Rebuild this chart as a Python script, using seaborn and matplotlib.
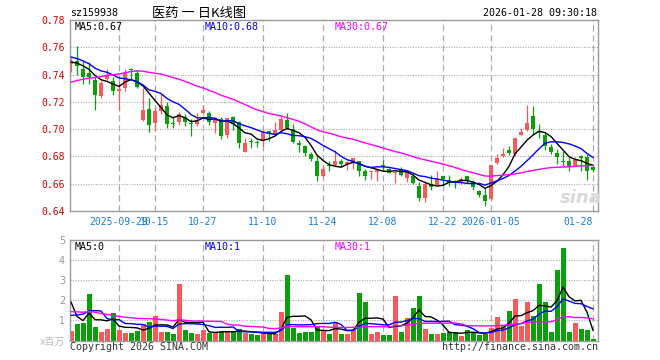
import numpy as np
import pandas as pd
import matplotlib
matplotlib.use('Agg')
import matplotlib.pyplot as plt
import seaborn as sns

# 日K数据 2025-09-17 .. 2026-01-28
open_ = [0.748, 0.750, 0.744, 0.741, 0.736, 0.724, 0.737, 0.735, 0.728, 0.730,
         0.7435, 0.7415, 0.7065, 0.7145, 0.7045, 0.7135, 0.717, 0.704, 0.705, 0.709,
         0.7045, 0.7035, 0.7118, 0.7118, 0.7045, 0.7075, 0.6955, 0.709, 0.705, 0.6835,
         0.691, 0.6905, 0.692, 0.6985, 0.6955, 0.6995, 0.7065, 0.700, 0.690, 0.6875,
         0.682, 0.6765, 0.6655, 0.6735, 0.6737, 0.6768, 0.6745, 0.675, 0.6763, 0.669,
         0.6685, 0.6688, 0.674, 0.671, 0.668, 0.6705, 0.664, 0.666, 0.658, 0.6495,
         0.6595, 0.6593, 0.6655, 0.6624, 0.6615, 0.6605, 0.6654, 0.661, 0.6545, 0.652,
         0.6487, 0.675, 0.680, 0.685, 0.6815, 0.6955, 0.6995, 0.7098, 0.6988, 0.6955,
         0.687, 0.6825, 0.6763, 0.6768, 0.6727, 0.680, 0.6793, 0.672]
high = [0.752, 0.761, 0.750, 0.749, 0.738, 0.735, 0.744, 0.738, 0.735, 0.744,
        0.7445, 0.743, 0.730, 0.7225, 0.716, 0.7255, 0.720, 0.709, 0.7125, 0.711,
        0.7075, 0.712, 0.7175, 0.713, 0.709, 0.709, 0.7085, 0.710, 0.706, 0.6935,
        0.6935, 0.692, 0.699, 0.699, 0.705, 0.7095, 0.7115, 0.7035, 0.692, 0.6885,
        0.6835, 0.681, 0.674, 0.677, 0.6845, 0.678, 0.6765, 0.679, 0.677, 0.6705,
        0.669, 0.6705, 0.6775, 0.6715, 0.669, 0.6725, 0.6685, 0.667, 0.6615, 0.661,
        0.6665, 0.669, 0.6658, 0.6665, 0.663, 0.665, 0.666, 0.6624, 0.6556, 0.6568,
        0.6735, 0.682, 0.6865, 0.6875, 0.6935, 0.7005, 0.7175, 0.717, 0.7035, 0.6975,
        0.689, 0.6854, 0.684, 0.6793, 0.6793, 0.681, 0.6817, 0.6732]
low = [0.742, 0.740, 0.733, 0.733, 0.714, 0.723, 0.736, 0.725, 0.714, 0.728,
       0.736, 0.730, 0.706, 0.698, 0.6985, 0.711, 0.7007, 0.7005, 0.703, 0.7025,
       0.695, 0.702, 0.711, 0.703, 0.697, 0.693, 0.6935, 0.6995, 0.6865, 0.683,
       0.6865, 0.687, 0.687, 0.691, 0.695, 0.6995, 0.700, 0.690, 0.6835, 0.680,
       0.6765, 0.662, 0.665, 0.6695, 0.673, 0.672, 0.670, 0.671, 0.666, 0.663,
       0.6635, 0.662, 0.670, 0.6675, 0.6605, 0.666, 0.661, 0.6598, 0.6475, 0.6465,
       0.6555, 0.659, 0.658, 0.658, 0.6568, 0.660, 0.6605, 0.6556, 0.650, 0.6435,
       0.648, 0.6748, 0.6795, 0.681, 0.680, 0.6955, 0.699, 0.6965, 0.6935, 0.6845,
       0.6817, 0.6744, 0.673, 0.669, 0.6727, 0.669, 0.663, 0.6683]
close = [0.750, 0.746, 0.738, 0.738, 0.725, 0.734, 0.740, 0.728, 0.7295, 0.741,
         0.743, 0.731, 0.714, 0.703, 0.7135, 0.718, 0.7037, 0.7035, 0.711, 0.7055,
         0.704, 0.7065, 0.714, 0.7055, 0.708, 0.695, 0.708, 0.7035, 0.690, 0.690,
         0.6905, 0.690, 0.698, 0.6965, 0.6995, 0.7075, 0.701, 0.6905, 0.6885, 0.6825,
         0.678, 0.6655, 0.671, 0.673, 0.6765, 0.6745, 0.676, 0.6785, 0.669, 0.666,
         0.669, 0.670, 0.672, 0.668, 0.6685, 0.6665, 0.6683, 0.6605, 0.6495, 0.660,
         0.6578, 0.6635, 0.6635, 0.6605, 0.661, 0.6637, 0.663, 0.6576, 0.652, 0.647,
         0.6735, 0.679, 0.6815, 0.6825, 0.6932, 0.6978, 0.7047, 0.700, 0.697, 0.6878,
         0.6835, 0.6793, 0.676, 0.6727, 0.6776, 0.679, 0.669, 0.6698]
# 成交量, 百万
volume = [0.48, 0.83, 0.88, 2.32, 0.68, 0.43, 0.58, 1.37, 0.53, 0.38,
          0.38, 0.48, 0.83, 0.93, 1.23, 0.43, 0.43, 0.33, 2.81, 0.53,
          0.38, 0.33, 0.53, 0.38, 0.38, 0.48, 0.43, 0.48, 0.58, 0.38,
          0.30, 0.28, 0.38, 0.38, 0.33, 1.42, 3.26, 0.63, 0.38, 0.43,
          0.43, 0.73, 0.53, 0.33, 0.93, 0.33, 0.33, 0.58, 2.37, 1.92,
          0.33, 0.43, 0.28, 0.28, 2.22, 0.43, 1.13, 1.62, 2.22, 0.58,
          0.33, 0.33, 0.38, 0.43, 0.43, 0.23, 0.53, 0.43, 0.28, 0.33,
          0.63, 1.18, 0.72, 1.49, 2.07, 0.72, 1.92, 1.23, 2.81, 1.92,
          0.43, 3.51, 4.60, 0.43, 0.88, 0.58, 0.53, 0.08]

# 窗口之前的29天 (估计值, 只用来让均线起点对上)
prev_close = [0.708, 0.712, 0.710, 0.715, 0.713, 0.711, 0.716, 0.714, 0.712, 0.717,
              0.715, 0.722, 0.728, 0.733, 0.737, 0.741, 0.744, 0.747, 0.752, 0.756,
              0.758, 0.755, 0.759, 0.757, 0.754, 0.750, 0.748, 0.751, 0.747]
prev_volume = [1.2, 1.5, 1.1, 1.8, 2.4, 2.0, 2.6, 2.1, 1.6, 1.3,
               1.4, 1.0, 1.2, 1.6, 1.1, 1.3, 1.5, 1.2, 1.4, 1.3,
               0.6, 0.5, 0.7, 0.55, 0.6, 4.4, 1.9, 0.47, 2.3]

holidays = ['2025-10-01', '2025-10-02', '2025-10-03', '2025-10-06', '2025-10-07',
            '2025-10-08', '2026-01-01', '2026-01-02']
tick_dates = ['2025-09-29', '2025-10-15', '2025-10-27', '2025-11-10', '2025-11-24',
              '2025-12-08', '2025-12-22', '2026-01-05', '2026-01-28']
tick_labels = ['2025-09-29', '10-15', '10-27', '11-10', '11-24',
               '12-08', '12-22', '2026-01-05', '01-28']
price_ticks = [0.64, 0.66, 0.68, 0.70, 0.72, 0.74, 0.76, 0.78]
vol_ticks = [0, 1, 2, 3, 4, 5]
vol_tick_labels = ['x百万', '1', '2', '3', '4', '5']

RED = '#f65a5a'
GREEN = '#0aa00a'
GRID = '#aaaaaa'

dates = pd.bdate_range('2025-09-17', '2026-01-28')
dates = dates[~dates.isin(pd.to_datetime(holidays))]

df = pd.DataFrame({'date': dates, 'open': open_, 'high': high, 'low': low,
                   'close': close, 'volume': volume})
df['i'] = np.arange(len(df))
n0 = len(prev_close)
c_all = pd.Series(prev_close + close)
v_all = pd.Series(prev_volume + volume)
for w in (5, 10, 30):
    df['ma%d' % w] = c_all.rolling(w).mean().iloc[n0:].values
    df['vma%d' % w] = v_all.rolling(w).mean().iloc[n0:].values

tick_idx = [int(np.where(df['date'] == pd.Timestamp(d))[0][0]) for d in tick_dates]

sns.set_theme(style='white')
plt.rcParams['font.family'] = ['DejaVu Sans Mono', 'Noto Sans CJK SC']

W, H = 660, 360
fig = plt.figure(figsize=(6.6, 3.6), dpi=100)
ax = fig.add_axes([70 / W, 1 - 211 / H, 528 / W, 191 / H])
axv = fig.add_axes([70 / W, 1 - 340.5 / H, 528 / W, 100.5 / H])

up = df['close'] >= df['open']
colors = np.where(up, RED, GREEN)

# K线
ax.vlines(df['i'], df['low'], df['high'], colors=colors, lw=0.9, zorder=2)
body = (df['close'] - df['open']).abs().clip(lower=0.0008)
ax.bar(df['i'], body, bottom=np.minimum(df['open'], df['close']), width=0.8,
       color=colors, linewidth=0, zorder=3)

ma_style = [('ma5', 'black'), ('ma10', '#0000ff'), ('ma30', '#ff00ff')]
for col, c in ma_style:
    sns.lineplot(data=df, x='i', y=col, ax=ax, color=c, lw=1.0, zorder=4)

# 成交量
axv.bar(df['i'], df['volume'], width=0.83, color=colors, linewidth=0, zorder=2)
for col, c in ma_style:
    sns.lineplot(data=df, x='i', y='v' + col, ax=axv, color=c, lw=1.0, zorder=4)

for a in (ax, axv):
    a.set_xlim(-0.17, 87.83)
    for t in tick_idx:
        a.axvline(t, color=GRID, ls=(0, (5, 3)), lw=0.9, zorder=0)
    for s in a.spines.values():
        s.set_color('#999999')
        s.set_linewidth(1.0)
    a.set_xlabel('')
    a.set_ylabel('')
    a.tick_params(length=0)

ax.set_ylim(0.64, 0.78)
for y in price_ticks[1:-1]:
    ax.axhline(y, color=GRID, ls=(0, (1, 1.3)), lw=0.8, zorder=0)
ax.set_yticks(price_ticks)
ax.set_yticklabels(['%.2f' % v for v in price_ticks], color='#e00000', fontsize=7)
ax.set_xticks(tick_idx)
ax.set_xticklabels(tick_labels, color='#1a7dd7', fontsize=7)
ax.get_xticklabels()[-1].set_ha('right')
ax.tick_params(axis='x', pad=4)
ax.tick_params(axis='y', pad=3.5)

axv.set_ylim(0, 5)
for y in vol_ticks[1:-1]:
    axv.axhline(y, color=GRID, ls=(0, (1, 1.3)), lw=0.8, zorder=0)
axv.set_yticks(vol_ticks)
axv.set_yticklabels(vol_tick_labels, color='#999999', fontsize=7,
                    family=['DejaVu Sans', 'Noto Sans CJK SC'])
axv.get_yticklabels()[0].set_color('#bbbbbb')
axv.set_xticks(tick_idx)
axv.set_xticklabels([])
axv.tick_params(axis='y', pad=3.5)


def txt(x, y, s, **kw):
    fig.text(x / W, 1 - y / H, s, va='center', **kw)


txt(70, 13, 'sz159938', fontsize=7.2, color='black')
txt(199, 13, '医药 一 日K线图', fontsize=9.5, ha='center', color='black',
    family=['Noto Sans CJK SC', 'DejaVu Sans'])
txt(597, 13, '2026-01-28 09:30:18', fontsize=7.2, ha='right', color='black')
txt(75, 27, 'MA5:0.67', fontsize=7.2, color='black')
txt(205, 27, 'MA10:0.68', fontsize=7.2, color='#0000ff')
txt(335, 27, 'MA30:0.67', fontsize=7.2, color='#ff00ff')
txt(75, 247, 'MA5:0', fontsize=7.2, color='black')
txt(205, 247, 'MA10:1', fontsize=7.2, color='#0000ff')
txt(335, 247, 'MA30:1', fontsize=7.2, color='#ff00ff')
txt(70, 347, 'Copyright 2026 SINA.COM', fontsize=7.2, color='#333333')
txt(598, 347, 'http://finance.sina.com.cn', fontsize=7.2, ha='right', color='#333333')
txt(581, 198, 'sina', fontsize=13, ha='center', color='#d9d9d9',
    fontweight='bold', style='italic', family='DejaVu Sans')

fig.savefig('out.png', dpi=100)
